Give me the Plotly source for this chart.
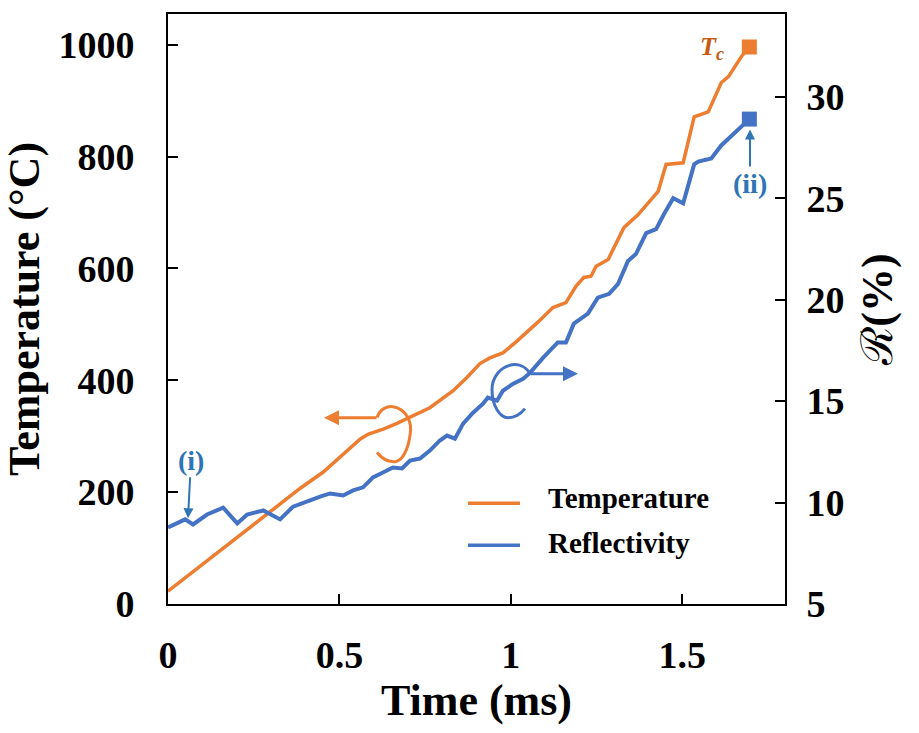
import plotly.graph_objects as go

# ---------------- data ----------------
time_T = [0, 0.386, 0.453, 0.561, 0.585, 0.63, 0.668, 0.764, 0.831, 0.872, 0.91, 0.939,
          0.977, 1.018, 1.079, 1.123, 1.161, 1.19, 1.213, 1.234, 1.249, 1.284, 1.33, 1.371,
          1.43, 1.453, 1.503, 1.535, 1.576, 1.614, 1.635, 1.673, 1.696]
temp = [23, 207, 236, 295, 304, 313, 323, 351, 381, 405, 430, 440,
        449, 470, 504, 530, 539, 568, 584, 586, 604, 616, 673, 696,
        738, 786, 789, 871, 880, 932, 943, 979, 996]

time_R = [0, 0.05, 0.073, 0.114, 0.161, 0.202, 0.231, 0.278, 0.327, 0.365, 0.444,
          0.473, 0.511, 0.540, 0.569, 0.598, 0.627, 0.656, 0.683, 0.706, 0.735, 0.764,
          0.793, 0.814, 0.837, 0.861, 0.890, 0.919, 0.933, 0.960, 0.977, 1.006, 1.036,
          1.056, 1.094, 1.114, 1.137, 1.161, 1.184, 1.225, 1.254, 1.287, 1.313, 1.342, 1.365,
          1.395, 1.424, 1.447, 1.474, 1.503, 1.535, 1.547, 1.585, 1.614, 1.652, 1.681, 1.696]
refl = [8.77, 9.17, 8.92, 9.41, 9.75, 8.97, 9.41, 9.61, 9.17, 9.80, 10.29,
        10.45, 10.35, 10.60, 10.75, 11.24, 11.48, 11.73, 11.68, 12.07, 12.17, 12.56,
        13.06, 13.30, 13.15, 13.89, 14.43, 14.87, 15.17, 15.02, 15.51, 15.85, 16.10,
        16.39, 17.13, 17.48, 17.89, 17.89, 18.82, 19.31, 20.10, 20.29, 20.78, 21.91, 22.25,
        23.28, 23.48, 24.22, 25.0, 24.75, 26.67, 26.81, 26.96, 27.6, 28.2, 28.7, 28.9]

x_ticks = [0, 0.5, 1, 1.5]
x_ticktext = ["0", "0.5", "1", "1.5"]
y_ticks = [0, 200, 400, 600, 800, 1000]
y2_ticks = [5, 10, 15, 20, 25, 30]

X_RANGE = [0, 1.8]
Y_RANGE = [0, 1055]
Y2_RANGE = [5, 34.08]

ORANGE = "#ED7D31"
BLUE = "#4472C4"
LBLUE = "#2E75B6"
DORANGE = "#C55A11"
FONT = "Liberation Serif, Times New Roman, serif"

W, H = 919, 733
ML, MR, MT, MB = 168, 134, 12, 129
PW, PH = W - ML - MR, H - MT - MB


# pixel -> data helpers for decorations
def dx(px):
    return X_RANGE[0] + (px - ML) / PW * (X_RANGE[1] - X_RANGE[0])


def dy(py):
    return Y_RANGE[0] + (H - MB - py) / PH * (Y_RANGE[1] - Y_RANGE[0])


def dy2(py):
    return Y2_RANGE[0] + (H - MB - py) / PH * (Y2_RANGE[1] - Y2_RANGE[0])


def path(points, fy):
    s = "M {} {}".format(dx(points[0][0]), fy(points[0][1]))
    rest = points[1:]
    for i in range(0, len(rest), 3):
        (a, b), (c, d), (e, f) = rest[i], rest[i + 1], rest[i + 2]
        s += " C {} {}, {} {}, {} {}".format(dx(a), fy(b), dx(c), fy(d), dx(e), fy(f))
    return s


fig = go.Figure()
fig.add_trace(go.Scatter(x=time_T, y=temp, mode="lines", name="Temperature",
                         line=dict(color=ORANGE, width=3.5), showlegend=False))
fig.add_trace(go.Scatter(x=time_R, y=refl, mode="lines", name="Reflectivity", yaxis="y2",
                         line=dict(color=BLUE, width=4), showlegend=False))
fig.add_trace(go.Scatter(x=[time_T[-1]], y=[temp[-1]], mode="markers",
                         marker=dict(symbol="square", size=15, color=ORANGE), showlegend=False))
fig.add_trace(go.Scatter(x=[time_R[-1]], y=[refl[-1]], mode="markers", yaxis="y2",
                         marker=dict(symbol="square", size=15, color=BLUE), showlegend=False))

axis_common = dict(showline=True, linewidth=2, linecolor="black", ticks="inside",
                   ticklen=10, tickwidth=2, tickcolor="black", showgrid=False,
                   zeroline=False,
                   tickfont=dict(family=FONT, size=38, color="black", weight="bold"))

shapes = []
# orange curl (points to the left axis)
shapes.append(dict(type="path", xref="x", yref="y",
                   path=path([(377, 417), (380, 408), (388, 405), (393, 406),
                              (405, 408), (413, 420), (410, 435),
                              (408, 450), (402, 460), (396, 461),
                              (388, 462), (381, 457), (377, 452)], dy),
                   line=dict(color=ORANGE, width=3)))
# blue curl (points to the right axis)
shapes.append(dict(type="path", xref="x", yref="y2",
                   path=path([(530, 373), (526, 366), (519, 363), (512, 364),
                              (500, 366), (492, 377), (492, 389),
                              (492, 405), (500, 417), (508, 417),
                              (515, 417), (521, 413), (525, 408)], dy2),
                   line=dict(color=BLUE, width=3)))
# manual legend lines
shapes.append(dict(type="line", xref="paper", yref="paper",
                   x0=(468 - ML) / PW, x1=(520 - ML) / PW,
                   y0=(H - MB - 503) / PH, y1=(H - MB - 503) / PH,
                   line=dict(color=ORANGE, width=3.5)))
shapes.append(dict(type="line", xref="paper", yref="paper",
                   x0=(468 - ML) / PW, x1=(520 - ML) / PW,
                   y0=(H - MB - 545) / PH, y1=(H - MB - 545) / PH,
                   line=dict(color=BLUE, width=3.5)))

annotations = []
# straight arrows of the curls
annotations.append(dict(x=dx(324), y=dy(417), ax=dx(378), ay=dy(417), xref="x", yref="y",
                        axref="x", ayref="y", showarrow=True, arrowhead=2, arrowsize=1,
                        arrowwidth=3, arrowcolor=ORANGE, text=""))
annotations.append(dict(x=dx(578), y=dy2(373), ax=dx(529), ay=dy2(373), xref="x", yref="y2",
                        axref="x", ayref="y2", showarrow=True, arrowhead=2, arrowsize=1,
                        arrowwidth=3, arrowcolor=BLUE, text=""))
# (i) and (ii)
annotations.append(dict(x=dx(188), y=dy2(518), xref="x", yref="y2", text="<b>(i)</b>",
                        showarrow=True, ax=3, ay=-58, arrowhead=2, arrowsize=1, arrowwidth=2,
                        arrowcolor=LBLUE, font=dict(family=FONT, size=28, color=LBLUE)))
annotations.append(dict(x=dx(750), y=dy2(128), xref="x", yref="y2", text="<b>(ii)</b>",
                        showarrow=True, ax=0, ay=54, arrowhead=2, arrowsize=1, arrowwidth=2,
                        arrowcolor=LBLUE, font=dict(family=FONT, size=28, color=LBLUE)))
# Tc
annotations.append(dict(x=dx(712), y=dy(46), xref="x", yref="y", showarrow=False,
                        text="<b><i>T</i></b><sub><b><i>c</i></b></sub>",
                        font=dict(family=FONT, size=26, color=DORANGE)))
# legend text
annotations.append(dict(x=(546 - ML) / PW, y=(H - MB - 498) / PH, xref="paper", yref="paper",
                        xanchor="left", yanchor="middle", showarrow=False,
                        text="<b>Temperature</b>",
                        font=dict(family=FONT, size=29, color="black")))
annotations.append(dict(x=(546 - ML) / PW, y=(H - MB - 543) / PH, xref="paper", yref="paper",
                        xanchor="left", yanchor="middle", showarrow=False,
                        text="<b>Reflectivity</b>",
                        font=dict(family=FONT, size=29, color="black")))

fig.update_layout(
    width=W, height=H, autosize=False,
    margin=dict(l=ML, r=MR, t=MT, b=MB),
    paper_bgcolor="white", plot_bgcolor="white",
    xaxis=dict(range=X_RANGE, tickvals=x_ticks, ticktext=x_ticktext, mirror=True,
               ticklabelstandoff=16,
               title=dict(text="Time (ms)", standoff=8,
                          font=dict(family=FONT, size=44, color="black", weight="bold")),
               **axis_common),
    yaxis=dict(range=Y_RANGE, tickvals=y_ticks, mirror=True, ticklabelstandoff=24,
               title=dict(text="Temperature (°C)", standoff=12,
                          font=dict(family=FONT, size=44, color="black", weight="bold")),
               **axis_common),
    yaxis2=dict(range=Y2_RANGE, tickvals=y2_ticks, overlaying="y", side="right",
                ticklabelstandoff=12,
                title=dict(text="<span style='font-weight:normal'>ℛ</span>(%)", standoff=18,
                           font=dict(family=FONT, size=44, color="black", weight="bold")),
                **axis_common),
    shapes=shapes,
    annotations=annotations,
)

fig.write_html("out.html")
